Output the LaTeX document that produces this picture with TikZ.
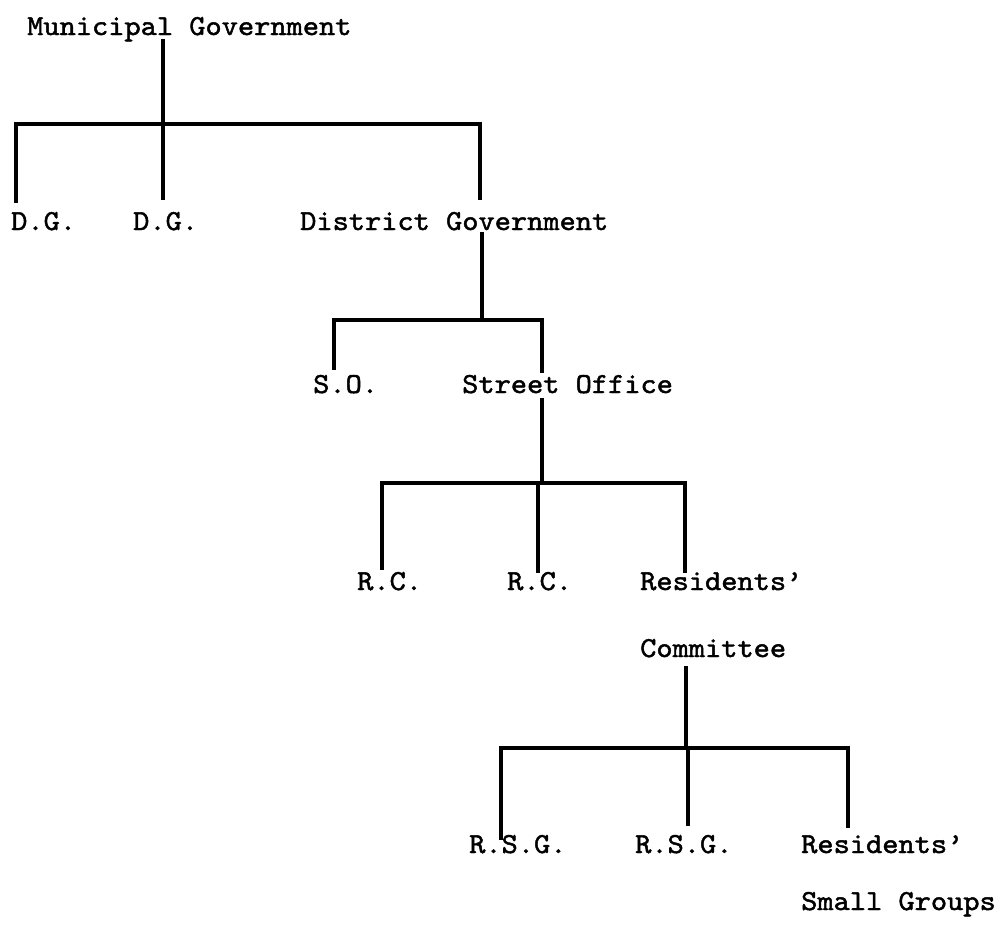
\documentclass[tikz,border=0pt]{standalone}
\usepackage{fontspec}
\setmonofont{lmmono10-regular.otf}[FakeStretch=1.065,FakeBold=1.6]
\begin{document}
\begin{tikzpicture}[x=1pt,y=-1pt,
  lbl/.style={anchor=base west, inner sep=0pt, font=\ttfamily\fontsize{29}{32}\selectfont},
  link/.style={line width=3.5pt, line join=miter}]
\useasboundingbox (0,0) rectangle (1001,926);
% labels
\node[lbl] (mg) at (27,35) {Municipal Government};
\node[lbl] (dg1) at (11,230) {D.G.};
\node[lbl] (dg2) at (133,230) {D.G.};
\node[lbl] (dg) at (300,230) {District Government};
\node[lbl] (so1) at (313,393) {S.O.};
\node[lbl] (so) at (462,393) {Street Office};
\node[lbl] (rc1) at (357,590) {R.C.};
\node[lbl] (rc2) at (507,590) {R.C.};
\node[lbl] (rc) at (640,590) {Residents’};
\node[lbl] (rcb) at (640,657) {Committee};
\node[lbl] (rsg1) at (469,853) {R.S.G.};
\node[lbl] (rsg2) at (635,853) {R.S.G.};
\node[lbl] (rsg) at (801,853) {Residents’};
\node[lbl] (rsgb) at (801,910) {Small Groups};
% junction coordinates
\coordinate (a0) at (163,39);  \coordinate (a) at (163,124);
\coordinate (aL) at (16,124);  \coordinate (aR) at (480,124);
\coordinate (a1) at (16,203);  \coordinate (a2) at (163,200); \coordinate (a3) at (480,200);
\coordinate (b0) at (482,232); \coordinate (b) at (482,320);
\coordinate (bL) at (334,320); \coordinate (bR) at (542,320);
\coordinate (b1) at (334,370); \coordinate (b2) at (542,373);
\coordinate (c0) at (542,398); \coordinate (c) at (542,483);
\coordinate (cL) at (382,483); \coordinate (cR) at (685,483);
\coordinate (c1) at (382,570); \coordinate (c2) at (538,573); \coordinate (c3) at (685,573);
\coordinate (d0) at (686,666); \coordinate (d) at (686,748);
\coordinate (dL) at (501,748); \coordinate (dR) at (848,748);
\coordinate (d1) at (501,840); \coordinate (d2) at (688,826); \coordinate (d3) at (848,828);
% connectors
\draw[link] (a0) -- (a);
\draw[link] (a1) -- (aL) -- (aR) -- (a3);
\draw[link] (a) -- (a2);
\draw[link] (b0) -- (b);
\draw[link] (b1) -- (bL) -- (bR) -- (b2);
\draw[link] (c0) -- (c);
\draw[link] (c1) -- (cL) -- (cR) -- (c3);
\draw[link] (c2 |- c) -- (c2);
\draw[link] (d0) -- (d);
\draw[link] (d1) -- (dL) -- (dR) -- (d3);
\draw[link] (d2 |- d) -- (d2);
\end{tikzpicture}
\end{document}
